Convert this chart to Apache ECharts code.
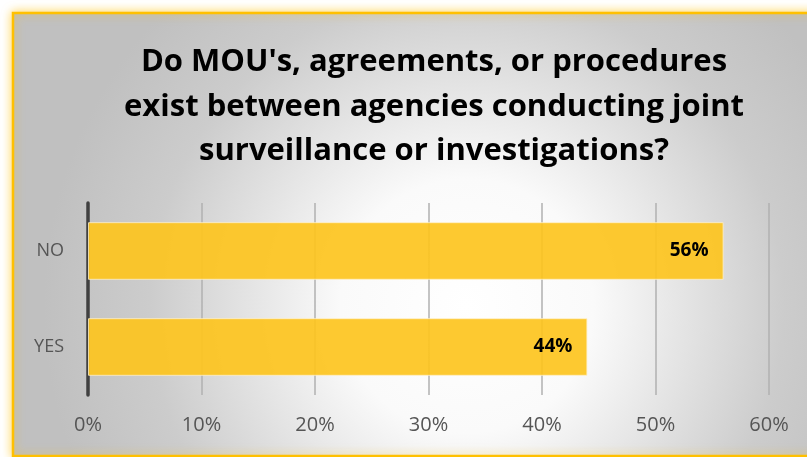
<!DOCTYPE html>
<html><head><meta charset="utf-8">
<script src="https://cdn.jsdelivr.net/npm/echarts@6/dist/echarts.min.js"></script>
<style>html,body{margin:0;padding:0;background:#fff}#c{width:807px;height:457px}</style>
</head><body><div id="c"></div>
<script>
var titleText = "Do MOU's, agreements, or procedures\nexist between agencies conducting joint\nsurveillance or investigations?";
var categories = ['YES', 'NO'];
var values = [44, 56];
var xTicks = [0, 10, 20, 30, 40, 50, 60];

var chart = echarts.init(document.getElementById('c'));
chart.setOption({
  backgroundColor: '#ffffff',
  animation: false,
  graphic: [{
    type: 'rect', z: -10, silent: true,
    shape: { x: 13, y: 13, width: 810, height: 443 },
    style: {
      fill: { type: 'radial', x: 0.56, y: 0.66, r: 0.95,
        colorStops: [{offset: 0, color: '#ffffff'}, {offset: 0.3, color: '#fafafa'}, {offset: 0.75, color: '#cccccc'}, {offset: 1, color: '#c0c0c0'}] },
      stroke: '#FFC000', lineWidth: 2.5,
      shadowBlur: 10, shadowColor: 'rgba(255,192,0,0.6)'
    }
  }],
  title: {
    text: titleText,
    left: 429, top: 35, textAlign: 'center',
    textStyle: { fontFamily: 'Open Sans', fontWeight: 'bold', fontSize: 31, lineHeight: 44.5, color: '#000' }
  },
  grid: { left: 88, right: 38, top: 203, bottom: 62, containLabel: false },
  xAxis: {
    type: 'value', min: 0, max: 60, interval: 10,
    axisLine: { show: false }, axisTick: { show: false },
    axisLabel: { formatter: function (v) { return xTicks.indexOf(v) >= 0 ? v + '%' : ''; }, fontFamily: 'Open Sans', fontSize: 20, color: '#555555', margin: 20 },
    splitLine: { show: true, lineStyle: { color: '#b0b0b0', width: 1.5 } }
  },
  yAxis: {
    type: 'category', data: categories,
    axisLine: { show: true, lineStyle: { color: '#404040', width: 3.5 } },
    axisTick: { show: false },
    axisLabel: { fontFamily: 'Open Sans', fontSize: 18, color: '#555555', margin: 24 }
  },
  series: [{
    type: 'bar', data: values, barCategoryGap: '40%',
    itemStyle: { color: 'rgba(253,196,30,0.92)', borderColor: 'rgba(255,240,200,0.8)', borderWidth: 1 },
    label: { show: true, position: 'insideRight', distance: 15, formatter: '{c}%', fontFamily: 'Open Sans', fontWeight: 'bold', fontSize: 19, color: '#000' }
  }]
});
</script></body></html>
